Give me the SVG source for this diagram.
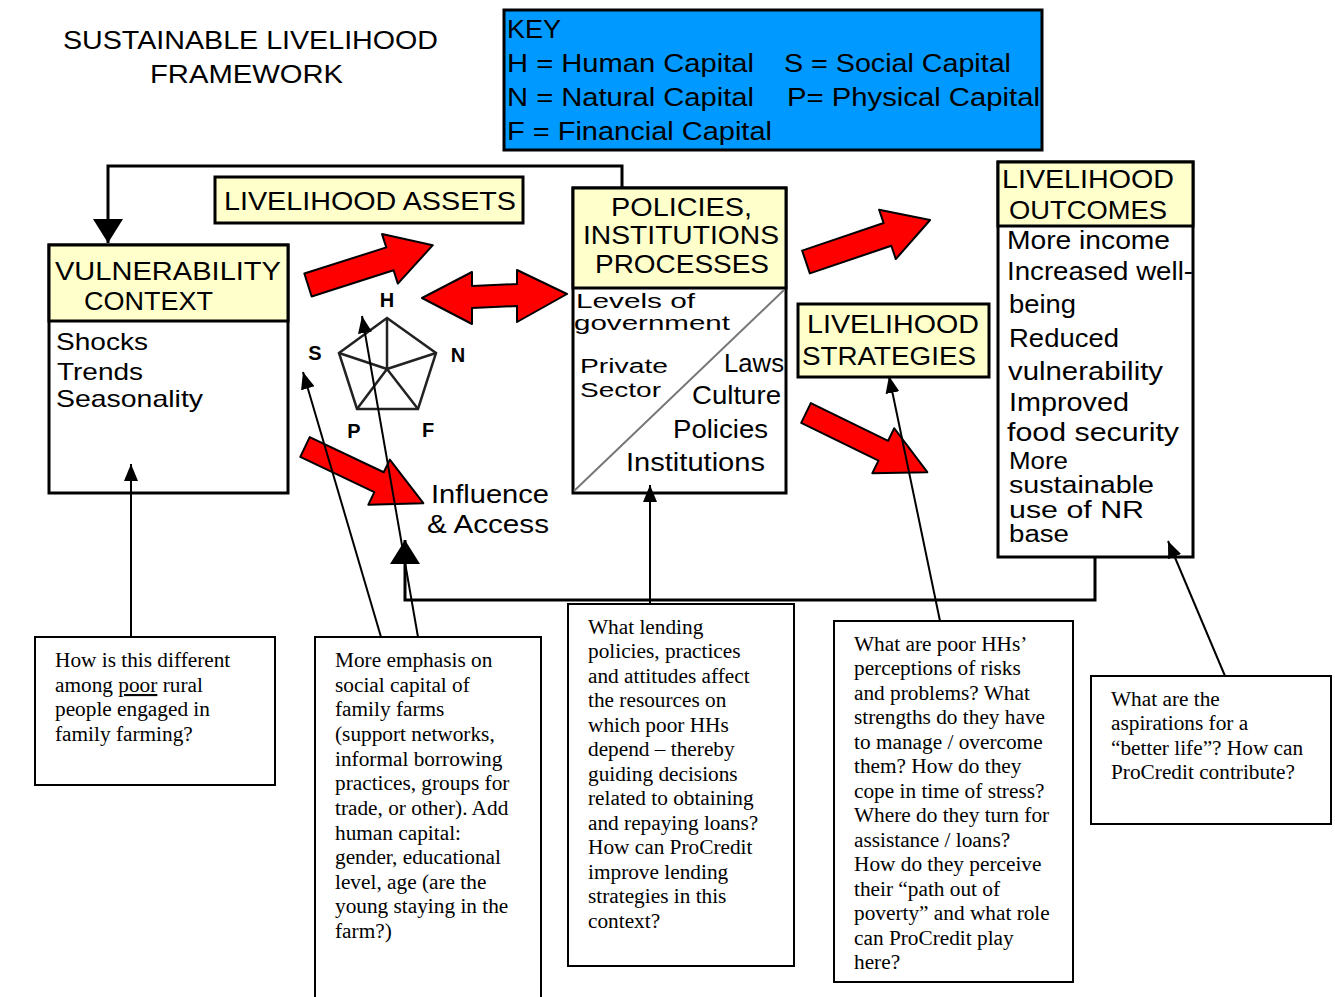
<svg xmlns="http://www.w3.org/2000/svg" width="1335" height="997" viewBox="0 0 1335 997">
<style>
.px{font-family:"Liberation Sans","DejaVu Sans",sans-serif;font-size:26px;fill:#000}
.tt{font-size:23px}
.t2{font-size:20.5px}
.t3{font-size:24px}
.sm{font-family:"Liberation Sans","DejaVu Sans",sans-serif;font-size:20px;font-weight:bold;fill:#000;text-anchor:middle}
.q{font-family:"Liberation Serif","Times New Roman",serif;font-size:21.3px;fill:#000}
.box{fill:#fff;stroke:#000;stroke-width:3}
.hdr{fill:#FFFFCC;stroke:#000;stroke-width:3}
.qbox{fill:#fff;stroke:#000;stroke-width:2}
.red{fill:#FF0000;stroke:#000;stroke-width:2;stroke-linejoin:round}
.thin{fill:none;stroke:#000;stroke-width:2}
.thick{fill:none;stroke:#000;stroke-width:3}
</style>
<defs>
<marker id="ah" markerUnits="userSpaceOnUse" markerWidth="18" markerHeight="16" refX="17" refY="7" orient="auto">
<path d="M0,0 L17,7 L0,14 z" fill="#000"/>
</marker>
<marker id="big" markerUnits="userSpaceOnUse" markerWidth="26" markerHeight="32" refX="24" refY="15" orient="auto">
<path d="M0,0 L24,15 L0,30 z" fill="#000"/>
</marker>
</defs>
<rect width="1335" height="997" fill="#fff"/>

<g id="title">
<text class="px" x="63" y="49" textLength="375" lengthAdjust="spacingAndGlyphs">SUSTAINABLE LIVELIHOOD</text>
<text class="px" x="150" y="83" textLength="193" lengthAdjust="spacingAndGlyphs">FRAMEWORK</text>
</g>

<g id="key">
<rect x="504" y="10" width="538" height="140" fill="#0099FF" stroke="#000" stroke-width="3"/>
<text class="px" x="507" y="38" textLength="54" lengthAdjust="spacingAndGlyphs">KEY</text>
<text class="px" x="507" y="72" textLength="247" lengthAdjust="spacingAndGlyphs">H = Human Capital</text>
<text class="px" x="784" y="72" textLength="227" lengthAdjust="spacingAndGlyphs">S = Social Capital</text>
<text class="px" x="507" y="106" textLength="247" lengthAdjust="spacingAndGlyphs">N = Natural Capital</text>
<text class="px" x="787" y="106" textLength="253" lengthAdjust="spacingAndGlyphs">P= Physical Capital</text>
<text class="px" x="507" y="140" textLength="265" lengthAdjust="spacingAndGlyphs">F = Financial Capital</text>
</g>

<g id="assets">
<rect class="hdr" x="215" y="177" width="308" height="46"/>
<text class="px" x="224" y="210" textLength="292" lengthAdjust="spacingAndGlyphs">LIVELIHOOD ASSETS</text>
</g>

<g id="vulnerability">
<rect class="box" x="49" y="245" width="239" height="248"/>
<rect class="hdr" x="49" y="245" width="239" height="76"/>
<text class="px" x="55" y="280" textLength="226" lengthAdjust="spacingAndGlyphs">VULNERABILITY</text>
<text class="px" x="84" y="310" textLength="129" lengthAdjust="spacingAndGlyphs">CONTEXT</text>
<text class="px t3" x="56" y="350" textLength="92" lengthAdjust="spacingAndGlyphs">Shocks</text>
<text class="px t3" x="57" y="380" textLength="86" lengthAdjust="spacingAndGlyphs">Trends</text>
<text class="px t3" x="56" y="407" textLength="147" lengthAdjust="spacingAndGlyphs">Seasonality</text>
</g>

<g id="pentagon">
<polygon points="387,318 436,353 418,409 357,409 339,353" fill="none" stroke="#222" stroke-width="2.5"/>
<path d="M387,369 L387,318 M387,369 L436,353 M387,369 L418,409 M387,369 L357,409 M387,369 L339,353" stroke="#222" stroke-width="2.5" fill="none"/>
<text class="sm" x="387" y="307">H</text>
<text class="sm" x="315" y="360">S</text>
<text class="sm" x="458" y="362">N</text>
<text class="sm" x="354" y="438">P</text>
<text class="sm" x="428" y="437">F</text>
</g>

<g id="red-arrows">
<polygon class="red" transform="translate(308,285) rotate(-17.7)" points="0,-12 86,-12 86,-26 131,0 86,26 86,12 0,12"/>
<polygon class="red" points="422,298 472,272 472,286 517,284 517,270 567,294 517,322 517,306 472,308 472,324"/>
<polygon class="red" transform="translate(305,447) rotate(25.4)" points="0,-11 82,-11 82,-25 131,0 82,25 82,11 0,11"/>
<polygon class="red" transform="translate(806,262) rotate(-18.7)" points="0,-12 86,-12 86,-26 131,0 86,26 86,12 0,12"/>
<polygon class="red" transform="translate(806,413) rotate(26)" points="0,-11 86,-11 86,-25 135,0 86,25 86,11 0,11"/>
</g>

<g id="influence">
<text class="px" x="431" y="503" textLength="118" lengthAdjust="spacingAndGlyphs">Influence</text>
<text class="px" x="427" y="533" textLength="122" lengthAdjust="spacingAndGlyphs">&amp; Access</text>
</g>

<g id="pip">
<rect class="box" x="573" y="188" width="213" height="305"/>
<rect class="hdr" x="573" y="188" width="213" height="100"/>
<line x1="574" y1="491" x2="784" y2="290" stroke="#777" stroke-width="2"/>
<text class="px" x="611" y="216" textLength="141" lengthAdjust="spacingAndGlyphs">POLICIES,</text>
<text class="px" x="583" y="244" textLength="196" lengthAdjust="spacingAndGlyphs">INSTITUTIONS</text>
<text class="px" x="595" y="273" textLength="174" lengthAdjust="spacingAndGlyphs">PROCESSES</text>
<text class="px t2" x="576" y="308" textLength="119" lengthAdjust="spacingAndGlyphs">Levels of</text>
<text class="px t2" x="574" y="330" textLength="156" lengthAdjust="spacingAndGlyphs">government</text>
<text class="px t2" x="580" y="373" textLength="88" lengthAdjust="spacingAndGlyphs">Private</text>
<text class="px t2" x="580" y="397" textLength="81" lengthAdjust="spacingAndGlyphs">Sector</text>
<text class="px" x="724" y="372" textLength="60" lengthAdjust="spacingAndGlyphs">Laws</text>
<text class="px" x="692" y="404" textLength="89" lengthAdjust="spacingAndGlyphs">Culture</text>
<text class="px" x="673" y="438" textLength="95" lengthAdjust="spacingAndGlyphs">Policies</text>
<text class="px" x="626" y="471" textLength="139" lengthAdjust="spacingAndGlyphs">Institutions</text>
</g>

<g id="strategies">
<rect class="hdr" x="798" y="304" width="191" height="73"/>
<text class="px" x="807" y="333" textLength="172" lengthAdjust="spacingAndGlyphs">LIVELIHOOD</text>
<text class="px" x="802" y="365" textLength="174" lengthAdjust="spacingAndGlyphs">STRATEGIES</text>
</g>

<g id="outcomes">
<rect class="box" x="998" y="162" width="195" height="395"/>
<rect class="hdr" x="998" y="162" width="195" height="64"/>
<text class="px" x="1002" y="188" textLength="172" lengthAdjust="spacingAndGlyphs">LIVELIHOOD</text>
<text class="px" x="1009" y="219" textLength="158" lengthAdjust="spacingAndGlyphs">OUTCOMES</text>
<text class="px" x="1007" y="249" textLength="163" lengthAdjust="spacingAndGlyphs">More income</text>
<text class="px" x="1007" y="280" textLength="186" lengthAdjust="spacingAndGlyphs">Increased well-</text>
<text class="px" x="1009" y="313" textLength="67" lengthAdjust="spacingAndGlyphs">being</text>
<text class="px" x="1009" y="347" textLength="110" lengthAdjust="spacingAndGlyphs">Reduced</text>
<text class="px" x="1008" y="380" textLength="155" lengthAdjust="spacingAndGlyphs">vulnerability</text>
<text class="px" x="1009" y="411" textLength="120" lengthAdjust="spacingAndGlyphs">Improved</text>
<text class="px" x="1007" y="441" textLength="172" lengthAdjust="spacingAndGlyphs">food security</text>
<text class="px tt" x="1009" y="469" textLength="59" lengthAdjust="spacingAndGlyphs">More</text>
<text class="px tt" x="1009" y="493" textLength="145" lengthAdjust="spacingAndGlyphs">sustainable</text>
<text class="px tt" x="1009" y="518" textLength="135" lengthAdjust="spacingAndGlyphs">use of NR</text>
<text class="px tt" x="1009" y="542" textLength="60" lengthAdjust="spacingAndGlyphs">base</text>
</g>

<g id="q-vulnerability">
<rect class="qbox" x="35" y="637" width="240" height="148"/>
<text class="q" x="55" y="667">How is this different</text>
<text class="q" x="55" y="692">among <tspan text-decoration="underline">poor</tspan> rural</text>
<text class="q" x="55" y="716">people engaged in</text>
<text class="q" x="55" y="741">family farming?</text>
</g>

<g id="q-assets">
<rect class="qbox" x="315" y="637" width="226" height="380"/>
<text class="q" x="335" y="667">More emphasis on</text>
<text class="q" x="335" y="692">social capital of</text>
<text class="q" x="335" y="716">family farms</text>
<text class="q" x="335" y="741">(support networks,</text>
<text class="q" x="335" y="766">informal borrowing</text>
<text class="q" x="335" y="790">practices, groups for</text>
<text class="q" x="335" y="815">trade, or other). Add</text>
<text class="q" x="335" y="840">human capital:</text>
<text class="q" x="335" y="864">gender, educational</text>
<text class="q" x="335" y="889">level, age (are the</text>
<text class="q" x="335" y="913">young staying in the</text>
<text class="q" x="335" y="938">farm?)</text>
</g>

<g id="q-pip">
<rect class="qbox" x="568" y="604" width="226" height="362"/>
<text class="q" x="588" y="634">What lending</text>
<text class="q" x="588" y="658">policies, practices</text>
<text class="q" x="588" y="683">and attitudes affect</text>
<text class="q" x="588" y="707">the resources on</text>
<text class="q" x="588" y="732">which poor HHs</text>
<text class="q" x="588" y="756">depend – thereby</text>
<text class="q" x="588" y="781">guiding decisions</text>
<text class="q" x="588" y="805">related to obtaining</text>
<text class="q" x="588" y="830">and repaying loans?</text>
<text class="q" x="588" y="854">How can ProCredit</text>
<text class="q" x="588" y="879">improve lending</text>
<text class="q" x="588" y="903">strategies in this</text>
<text class="q" x="588" y="928">context?</text>
</g>

<g id="q-strategies">
<rect class="qbox" x="834" y="621" width="239" height="361"/>
<text class="q" x="854" y="651">What are poor HHs’</text>
<text class="q" x="854" y="675">perceptions of risks</text>
<text class="q" x="854" y="700">and problems? What</text>
<text class="q" x="854" y="724">strengths do they have</text>
<text class="q" x="854" y="749">to manage / overcome</text>
<text class="q" x="854" y="773">them? How do they</text>
<text class="q" x="854" y="798">cope in time of stress?</text>
<text class="q" x="854" y="822">Where do they turn for</text>
<text class="q" x="854" y="847">assistance / loans?</text>
<text class="q" x="854" y="871">How do they perceive</text>
<text class="q" x="854" y="896">their “path out of</text>
<text class="q" x="854" y="920">poverty” and what role</text>
<text class="q" x="854" y="945">can ProCredit play</text>
<text class="q" x="854" y="969">here?</text>
</g>

<g id="q-outcomes">
<rect class="qbox" x="1091" y="676" width="240" height="148"/>
<text class="q" x="1111" y="706">What are the</text>
<text class="q" x="1111" y="730">aspirations for a</text>
<text class="q" x="1111" y="755">“better life”? How can</text>
<text class="q" x="1111" y="779">ProCredit contribute?</text>
</g>

<g id="connectors">
<polyline class="thick" points="622,187 622,166 108,166 108,243" marker-end="url(#big)"/>
<polyline class="thick" points="1095,557 1095,600 405,600 405,540" marker-end="url(#big)"/>
<line class="thin" x1="131" y1="637" x2="131" y2="464" marker-end="url(#ah)"/>
<line class="thin" x1="381" y1="637" x2="303" y2="372" marker-end="url(#ah)"/>
<line class="thin" x1="418" y1="637" x2="362" y2="316" marker-end="url(#ah)"/>
<line class="thin" x1="650" y1="604" x2="650" y2="485" marker-end="url(#ah)"/>
<line class="thin" x1="940" y1="621" x2="889" y2="376" marker-end="url(#ah)"/>
<line class="thin" x1="1225" y1="676" x2="1168" y2="541" marker-end="url(#ah)"/>
</g>
</svg>
